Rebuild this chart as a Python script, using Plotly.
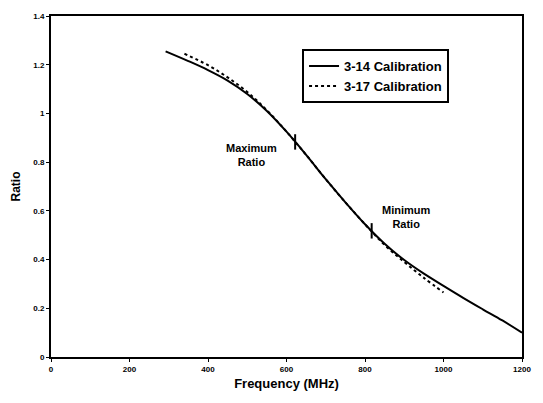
import plotly.graph_objects as go

freq_314 = [292, 350, 400, 450, 500, 550, 600, 650, 700, 750, 800, 850, 900, 950, 1000, 1050, 1100, 1150, 1200]
ratio_314 = [1.255, 1.215, 1.178, 1.135, 1.08, 1.01, 0.925, 0.83, 0.73, 0.635, 0.545, 0.465, 0.398, 0.342, 0.292, 0.243, 0.196, 0.15, 0.10]

freq_317 = [340, 400, 450, 500, 550, 600, 650, 700, 750, 800, 850, 900, 950, 1000]
ratio_317 = [1.245, 1.198, 1.148, 1.088, 1.013, 0.925, 0.83, 0.73, 0.635, 0.545, 0.46, 0.39, 0.325, 0.265]

marker_freq = [622, 817]
marker_ratio = [0.883, 0.518]
marker_labels = ["<b>Maximum</b><br><b>Ratio</b>", "<b>Minimum</b><br><b>Ratio</b>"]
label_freq = [510, 905]
label_ratio = [0.83, 0.575]

FONT = "Liberation Sans, Arial"

fig = go.Figure()
fig.add_trace(go.Scatter(x=freq_314, y=ratio_314, mode="lines", name="<b>3-14 Calibration</b>",
                         line=dict(color="black", width=2, shape="spline", smoothing=1.0)))
fig.add_trace(go.Scatter(x=freq_317, y=ratio_317, mode="lines", name="<b>3-17 Calibration</b>",
                         line=dict(color="black", width=2, dash="dot", shape="spline", smoothing=1.0)))
fig.add_trace(go.Scatter(x=marker_freq, y=marker_ratio, mode="markers", showlegend=False,
                         marker=dict(symbol="line-ns", size=11, line=dict(color="black", width=2))))

for fx, fy, t in zip(label_freq, label_ratio, marker_labels):
    fig.add_annotation(x=fx, y=fy, text=t, showarrow=False,
                       font=dict(family=FONT, size=11, color="black"))

axis_common = dict(showline=True, linecolor="black", linewidth=2, mirror=True, showgrid=False,
                   zeroline=False, ticks="outside", ticklen=3, tickcolor="black",
                   tickfont=dict(family=FONT, size=8, color="black", weight="bold"))

fig.update_xaxes(range=[0, 1200], tick0=0, dtick=200,
                 title=dict(text="<b>Frequency (MHz)</b>", standoff=6,
                            font=dict(family=FONT, size=13, color="black")),
                 **axis_common)
fig.update_yaxes(range=[0, 1.4], tick0=0, dtick=0.2, tickformat="~g",
                 title=dict(text="<b>Ratio</b>", standoff=10,
                            font=dict(family=FONT, size=12, color="black")),
                 **axis_common)

fig.update_layout(width=543, height=403, margin=dict(l=51, r=12, t=15, b=46),
                  plot_bgcolor="white", paper_bgcolor="white",
                  legend=dict(x=0.533, y=0.903, xanchor="left", yanchor="top",
                              bordercolor="black", borderwidth=2, bgcolor="white",
                              font=dict(family=FONT, size=13, color="black"),
                              tracegroupgap=0, itemwidth=30))

fig.write_html("out.html")
